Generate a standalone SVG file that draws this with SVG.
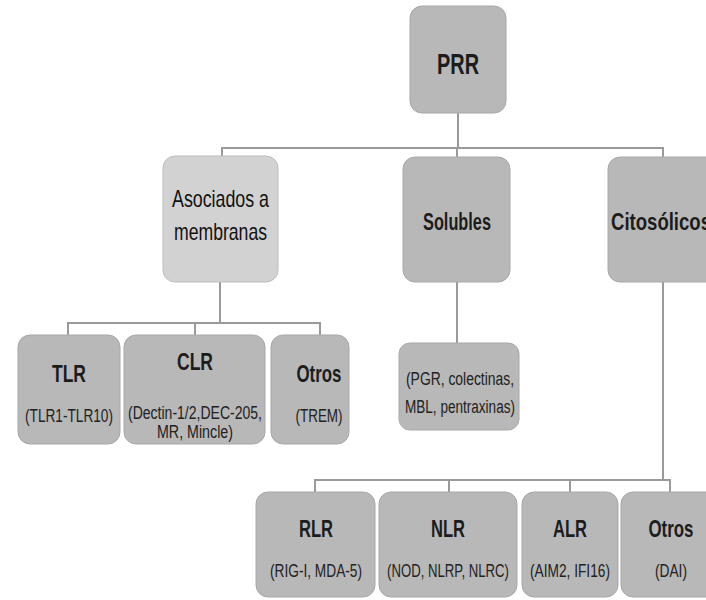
<svg xmlns="http://www.w3.org/2000/svg" width="706" height="600" viewBox="0 0 706 600">
  <style>
    .box { fill: #b8b8b8; stroke: #a8a8a8; stroke-width: 1; }
    .box-light { fill: #d2d2d2; stroke: #bdbdbd; stroke-width: 1; }
    .title { font-family: "Liberation Sans Narrow", "Liberation Sans", Arial, sans-serif; font-weight: bold; fill: #1c1c1c; text-anchor: middle; }
    .plain { font-weight: normal; fill: #111; }
    .sub { font-family: "Liberation Sans Narrow", "Liberation Sans", Arial, sans-serif; font-size: 18px; fill: #222; text-anchor: middle; }
    .left { text-anchor: start; }
    .link { fill: none; stroke: #9a9a9a; stroke-width: 2; }
  </style>
  <rect width="706" height="600" fill="#ffffff"/>

  <g id="connectors">
    <!-- root to first level -->
    <path class="link" d="M458 113 V148 M222 156 V148 H663 V157 M457 148 V157"/>
    <!-- membrane-associated branch -->
    <path class="link" d="M220 282 V323 M68 335 V323 H320 V335 M195 323 V335"/>
    <!-- soluble branch -->
    <path class="link" d="M457 282 V343"/>
    <!-- cytosolic branch -->
    <path class="link" d="M663 282 V480 M315 492 V480 H670 V492 M449 480 V492 M570 480 V492"/>
  </g>

  <g id="prr">
    <rect class="box" x="410" y="6" width="96" height="107" rx="12"/>
    <text class="title" x="458" y="74" font-size="29" textLength="42" lengthAdjust="spacingAndGlyphs">PRR</text>
  </g>

  <g id="asociados">
    <rect class="box-light" x="163" y="156" width="115" height="126" rx="12"/>
    <text class="title plain" x="220.5" y="207" font-size="24" textLength="97" lengthAdjust="spacingAndGlyphs">Asociados a</text>
    <text class="title plain" x="220.5" y="240" font-size="24" textLength="93" lengthAdjust="spacingAndGlyphs">membranas</text>
  </g>

  <g id="solubles">
    <rect class="box" x="403" y="157" width="107" height="125" rx="12"/>
    <text class="title" x="457" y="230" font-size="24" textLength="68" lengthAdjust="spacingAndGlyphs">Solubles</text>
  </g>

  <g id="citosolicos">
    <rect class="box" x="608" y="157" width="110" height="125" rx="12"/>
    <text class="title left" x="611" y="230" font-size="24" textLength="100" lengthAdjust="spacingAndGlyphs">Citosólicos</text>
  </g>

  <g id="tlr">
    <rect class="box" x="18" y="335" width="102" height="109" rx="12"/>
    <text class="title" x="69" y="382" font-size="24" textLength="34" lengthAdjust="spacingAndGlyphs">TLR</text>
    <text class="sub" x="69" y="422" textLength="88" lengthAdjust="spacingAndGlyphs">(TLR1-TLR10)</text>
  </g>

  <g id="clr">
    <rect class="box" x="124" y="335" width="141" height="109" rx="12"/>
    <text class="title" x="195" y="370" font-size="24" textLength="36" lengthAdjust="spacingAndGlyphs">CLR</text>
    <text class="sub" x="195" y="419" font-size="17" textLength="134" lengthAdjust="spacingAndGlyphs">(Dectin-1/2,DEC-205,</text>
    <text class="sub" x="195" y="438" font-size="17" textLength="76" lengthAdjust="spacingAndGlyphs">MR, Mincle)</text>
  </g>

  <g id="otros-membrana">
    <rect class="box" x="271" y="335" width="78" height="109" rx="12"/>
    <text class="title" x="319" y="382" font-size="24" textLength="45" lengthAdjust="spacingAndGlyphs">Otros</text>
    <text class="sub" x="319" y="422" textLength="47" lengthAdjust="spacingAndGlyphs">(TREM)</text>
  </g>

  <g id="solubles-lista">
    <rect class="box" x="399" y="343" width="120" height="87" rx="11"/>
    <text class="sub" x="460" y="385" textLength="108" lengthAdjust="spacingAndGlyphs">(PGR, colectinas,</text>
    <text class="sub" x="460" y="413" textLength="110" lengthAdjust="spacingAndGlyphs">MBL, pentraxinas)</text>
  </g>

  <g id="rlr">
    <rect class="box" x="256" y="492" width="119" height="105" rx="12"/>
    <text class="title" x="316" y="537" font-size="24" textLength="34" lengthAdjust="spacingAndGlyphs">RLR</text>
    <text class="sub" x="316" y="577" textLength="92" lengthAdjust="spacingAndGlyphs">(RIG-I, MDA-5)</text>
  </g>

  <g id="nlr">
    <rect class="box" x="379" y="492" width="138" height="105" rx="12"/>
    <text class="title" x="448" y="537" font-size="24" textLength="34" lengthAdjust="spacingAndGlyphs">NLR</text>
    <text class="sub" x="448" y="577" textLength="122" lengthAdjust="spacingAndGlyphs">(NOD, NLRP, NLRC)</text>
  </g>

  <g id="alr">
    <rect class="box" x="522" y="492" width="96" height="105" rx="12"/>
    <text class="title" x="570" y="537" font-size="24" textLength="34" lengthAdjust="spacingAndGlyphs">ALR</text>
    <text class="sub" x="570" y="577" textLength="80" lengthAdjust="spacingAndGlyphs">(AIM2, IFI16)</text>
  </g>

  <g id="otros-citosol">
    <rect class="box" x="621" y="492" width="100" height="105" rx="12"/>
    <text class="title" x="671" y="537" font-size="24" textLength="45" lengthAdjust="spacingAndGlyphs">Otros</text>
    <text class="sub" x="671" y="577" textLength="32" lengthAdjust="spacingAndGlyphs">(DAI)</text>
  </g>
</svg>
